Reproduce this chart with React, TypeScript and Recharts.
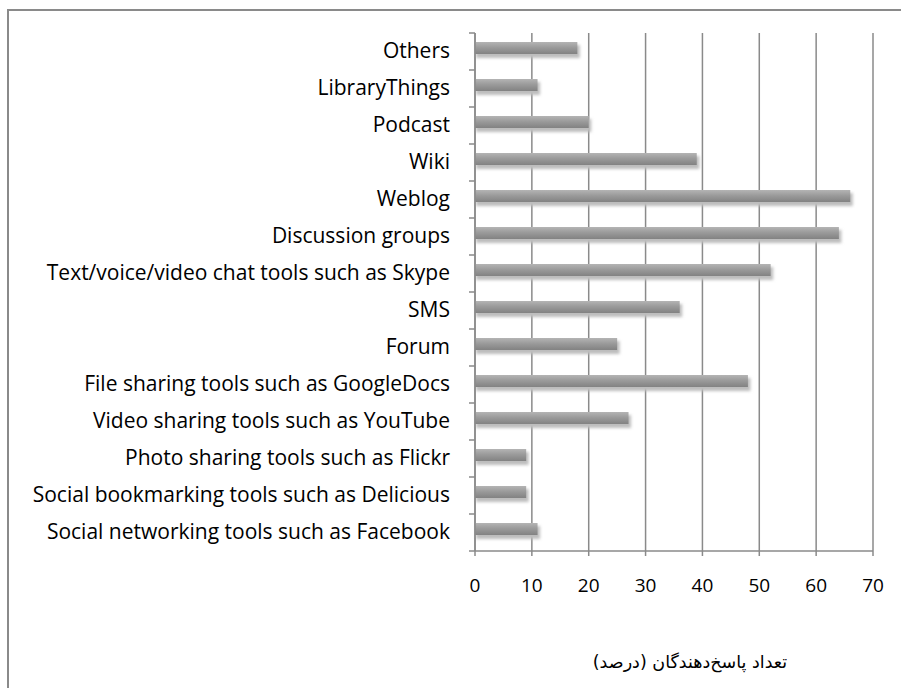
import React from 'react';
import { BarChart, Bar, XAxis, YAxis, CartesianGrid, Label } from 'recharts';

const categories = [
  'Others',
  'LibraryThings',
  'Podcast',
  'Wiki',
  'Weblog',
  'Discussion groups',
  'Text/voice/video chat tools such as Skype',
  'SMS',
  'Forum',
  'File sharing tools such as GoogleDocs',
  'Video sharing tools such as YouTube',
  'Photo sharing tools such as Flickr',
  'Social bookmarking tools such as Delicious',
  'Social networking tools such as Facebook',
];
const percentages = [18, 11, 20, 39, 66, 64, 52, 36, 25, 48, 27, 9, 9, 11];
const xTicks = [0, 10, 20, 30, 40, 50, 60, 70];
const axisTitle = 'تعداد پاسخ‌دهندگان (درصد)';

const data = categories.map((name, i) => ({ name, value: percentages[i] }));

const W = 901;
const H = 688;
const MARGIN = { top: 33, right: 28, bottom: 77, left: 0 };
const Y_WIDTH = 475;
const X_HEIGHT = 60;
const PLOT_H = H - MARGIN.top - MARGIN.bottom - X_HEIGHT;
const BAND = PLOT_H / categories.length;
const GRAY = '#8a8a8a';

const BarShape = (props: any) => {
  const { x, y, width, height } = props;
  if (!width || width <= 0) return null;
  const yy = y - 4;
  return (
    <g>
      <rect x={x + 1} y={yy + 3} width={width + 1.5} height={height + 1} fill="#bdbdbd" filter="url(#barShadow)" />
      <rect x={x} y={yy} width={width} height={height} fill="url(#barGrad)" />
    </g>
  );
};

const CatTick = (props: any) => {
  const { y, payload, index } = props;
  const axisX = Y_WIDTH;
  const top = y - BAND / 2;
  return (
    <g>
      <line x1={axisX - 6} x2={axisX} y1={top} y2={top} stroke={GRAY} strokeWidth={1.5} />
      {index === categories.length - 1 && (
        <line x1={axisX - 6} x2={axisX} y1={y + BAND / 2} y2={y + BAND / 2} stroke={GRAY} strokeWidth={1.5} />
      )}
      <text x={axisX - 25} y={y - 2} textAnchor="end" dominantBaseline="central" fontFamily="Open Sans" fontSize={21} fill="#000">
        {payload.value}
      </text>
    </g>
  );
};

export default function App() {
  return (
    <div style={{ position: 'absolute', left: 0, top: 0, width: W, height: H, background: '#fff', overflow: 'hidden' }}>
      <div
        style={{
          position: 'absolute',
          left: 7,
          top: 9,
          width: W,
          height: H,
          borderLeft: `2px solid ${GRAY}`,
          borderTop: `2px solid ${GRAY}`,
          boxSizing: 'border-box',
        }}
      />
      <div style={{ position: 'absolute', left: 0, top: 0 }}>
        <BarChart width={W} height={H} data={data} layout="vertical" margin={MARGIN} barSize={12}>
          <defs>
            <linearGradient id="barGrad" x1="0" y1="0" x2="0" y2="1">
              <stop offset="0%" stopColor="#b4b4b4" />
              <stop offset="45%" stopColor="#9b9b9b" />
              <stop offset="100%" stopColor="#828282" />
            </linearGradient>
            <filter id="barShadow" x="-10%" y="-50%" width="120%" height="200%">
              <feGaussianBlur stdDeviation="1.8" />
            </filter>
          </defs>
          <CartesianGrid horizontal={false} stroke={GRAY} strokeWidth={1.5} />
          <XAxis
            type="number"
            domain={[0, 70]}
            ticks={xTicks}
            interval={0}
            height={X_HEIGHT}
            axisLine={{ stroke: GRAY, strokeWidth: 1.5 }}
            tickLine={{ stroke: GRAY, strokeWidth: 1.5 }}
            tickSize={5}
            tickMargin={23}
            tick={{ fontFamily: 'Open Sans', fontSize: 19, fill: '#000' }}
          >
            <Label
              value={axisTitle}
              position="bottom"
              offset={45}
              dx={16}
              style={{ fontFamily: 'DejaVu Sans', fontSize: 17.5, fill: '#000' }}
            />
          </XAxis>
          <YAxis
            type="category"
            dataKey="name"
            width={Y_WIDTH}
            interval={0}
            axisLine={{ stroke: GRAY, strokeWidth: 1.5 }}
            tickLine={false}
            tick={<CatTick />}
          />
          <Bar dataKey="value" isAnimationActive={false} shape={<BarShape />} />
        </BarChart>
      </div>
    </div>
  );
}
